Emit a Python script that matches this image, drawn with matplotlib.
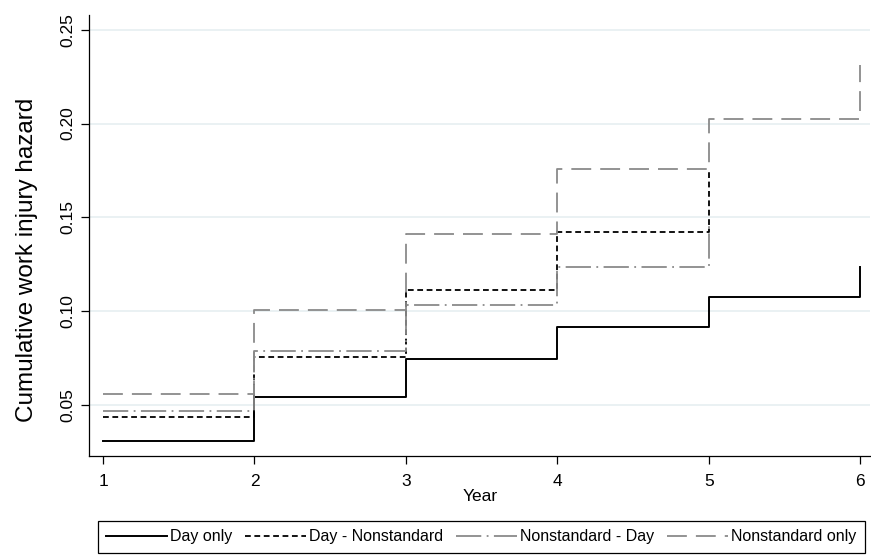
import matplotlib
matplotlib.use("Agg")
import matplotlib.pyplot as plt

plt.rcParams['font.family'] = ['Liberation Sans', 'DejaVu Sans']

# cumulative hazard, one value per year (step 'post')
years_day = [1, 2, 3, 4, 5, 6]
day_only = [0.0308, 0.0543, 0.0745, 0.0916, 0.1076, 0.1236]

years_dn = [1, 2, 3, 4, 5]
day_nonstd = [0.0438, 0.0757, 0.1113, 0.1420, 0.1760]

years_nd = [1, 2, 3, 4, 5]
nonstd_day = [0.0470, 0.0788, 0.1033, 0.1237, 0.1460]

years_nn = [1, 2, 3, 4, 5, 6]
nonstd_only = [0.0559, 0.1006, 0.1410, 0.1758, 0.2025, 0.2310]

labels = ["Day only", "Day - Nonstandard", "Nonstandard - Day", "Nonstandard only"]
y_ticks = [0.05, 0.10, 0.15, 0.20, 0.25]
x_ticks = [1, 2, 3, 4, 5, 6]

gray = '#8a8a8a'

fig = plt.figure(figsize=(8.71, 5.56), dpi=100)
ax = fig.add_axes([0.1022, 0.1799, 0.897, 0.7935])

ax.step(years_day, day_only, where='post', color='black', lw=1.4,
        label=labels[0])
ax.step(years_dn, day_nonstd, where='post', color='black', lw=1.3,
        dashes=(3.2, 2.0), label=labels[1])
ax.step(years_nd, nonstd_day, where='post', color=gray, lw=1.3,
        dashes=(14, 3, 1, 3), label=labels[2])
ax.step(years_nn, nonstd_only, where='post', color=gray, lw=1.3,
        dashes=(11, 5), label=labels[3])

ax.set_xlim(0.9075, 6.066)
ax.set_ylim(0.0228, 0.258)
ax.set_xticks(x_ticks)
ax.set_yticks(y_ticks)
ax.set_yticklabels([f"{v:.2f}" for v in y_ticks], rotation=90, va='center')
ax.tick_params(axis='both', direction='out', length=6, width=0.9,
               labelsize=12.5, colors='black')
ax.tick_params(axis='y', pad=4)
ax.tick_params(axis='x', pad=7)

ax.grid(axis='y', color='#e8f0f2', lw=1.3)
ax.set_axisbelow(True)
for s in ['top', 'right']:
    ax.spines[s].set_visible(False)
for s in ['left', 'bottom']:
    ax.spines[s].set_linewidth(0.9)

ax.set_xlabel("Year", fontsize=12.5, labelpad=0)
ax.set_ylabel("Cumulative work injury hazard", fontsize=17.5)
ax.yaxis.set_label_coords(-0.065, 0.444)

leg = fig.legend(loc='lower center', bbox_to_anchor=(0.5525, 0.005), ncol=4,
                 fontsize=11.5, frameon=True, fancybox=False, framealpha=1,
                 edgecolor='black', handlelength=3.8, handletextpad=0.2,
                 columnspacing=0.8, borderpad=0.55, borderaxespad=0)
leg.get_frame().set_linewidth(0.9)

fig.savefig("out.png", dpi=100)
